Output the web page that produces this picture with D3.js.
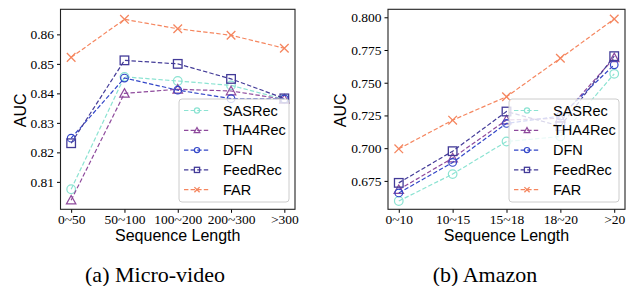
<!DOCTYPE HTML>
<html>
  <head>
    <title>AUC vs Sequence Length</title>
    <style>
      body { margin: 0; background: #fff; }
      .lab { font-family: 'Liberation Sans', Arial, sans-serif; font-size: 16px; fill: #000; }
      .leg { font-family: 'Liberation Sans', Arial, sans-serif; font-size: 14.5px; fill: #000; }
      .cap { font-family: 'Liberation Serif', 'Times New Roman', serif; font-size: 22px; fill: #000; }
    </style>
  </head>
  <body>
    <script src="https://cdn.jsdelivr.net/npm/d3@7/dist/d3.min.js" charset="utf-8"></script>
    <script>
      // series names, in legend order
      var names = ['SASRec', 'THA4Rec', 'DFN', 'FeedRec', 'FAR'];

      // (a) Micro-video
      var microCats = ['0~50', '50~100', '100~200', '200~300', '>300'];
      var microSASRec  = [0.8075, 0.8456, 0.8442, 0.8427, 0.8380];
      var microTHA4Rec = [0.8038, 0.8400, 0.8414, 0.8408, 0.8380];
      var microDFN     = [0.8248, 0.8452, 0.8411, 0.8382, 0.8381];
      var microFeedRec = [0.8231, 0.8512, 0.8500, 0.8449, 0.8383];
      var microFAR     = [0.8522, 0.8651, 0.8619, 0.8597, 0.8553];
      var microTicks = [0.81, 0.82, 0.83, 0.84, 0.85, 0.86];

      // (b) Amazon
      var amazonCats = ['0~10', '10~15', '15~18', '18~20', '>20'];
      var amazonSASRec  = [0.6596, 0.6802, 0.7051, 0.7089, 0.7568];
      var amazonTHA4Rec = [0.6683, 0.6925, 0.7215, 0.7229, 0.7690];
      var amazonDFN     = [0.6658, 0.6891, 0.7189, 0.7245, 0.7637];
      var amazonFeedRec = [0.6735, 0.6977, 0.7280, 0.7168, 0.7703];
      var amazonFAR     = [0.6995, 0.7214, 0.7393, 0.7687, 0.7987];
      var amazonTicks = [0.675, 0.700, 0.725, 0.750, 0.775, 0.800];

      var colors = {
        SASRec: '#8be3d2',
        THA4Rec: '#8e4a9c',
        DFN: '#3346c8',
        FeedRec: '#433b98',
        FAR: '#f5865f'
      };

      var width = 634,
        height = 286;

      var svg = d3.select('body').append('svg')
          .attr('width', width)
          .attr('height', height);

      function marker(g, name, x, y, big) {
        var c = colors[name];
        var r = big ? 4.3 : 2.6;
        if (name === 'SASRec' || name === 'DFN') {
          g.append('circle').attr('cx', x).attr('cy', y)
            .attr('r', name === 'DFN' && big ? 3.8 : r)
            .attr('fill', 'none').attr('stroke', c).attr('stroke-width', 1.2);
        } else if (name === 'THA4Rec') {
          var s = r * 1.1;
          g.append('path')
            .attr('d', 'M' + x + ',' + (y - s) + 'L' + (x + s) + ',' + (y + s * 0.8) + 'L' + (x - s) + ',' + (y + s * 0.8) + 'Z')
            .attr('fill', 'none').attr('stroke', c).attr('stroke-width', 1.2);
        } else if (name === 'FeedRec') {
          g.append('rect').attr('x', x - r).attr('y', y - r)
            .attr('width', 2 * r).attr('height', 2 * r)
            .attr('fill', 'none').attr('stroke', c).attr('stroke-width', 1.3);
        } else {
          var k = r;
          g.append('path')
            .attr('d', 'M' + (x - k) + ',' + (y - k) + 'L' + (x + k) + ',' + (y + k) +
                       'M' + (x - k) + ',' + (y + k) + 'L' + (x + k) + ',' + (y - k))
            .attr('stroke', c).attr('stroke-width', 1.3);
        }
      }

      function serifTicks(a) {
        a.attr('font-family', "'Liberation Serif', 'Times New Roman', serif")
          .attr('font-size', 13.5);
        a.selectAll('text').attr('fill', '#000');
        a.select('.domain').remove();
      }

      function panel(opt) {
        var x = d3.scalePoint()
            .domain(opt.cats)
            .range([opt.left, opt.right])
            .padding(0.2);
        var y = d3.scaleLinear()
            .domain(opt.ydom)
            .range([opt.bottom, opt.top]);

        var g = svg.append('g');

        // lines + markers
        opt.series.forEach(function(vals, si) {
          var name = names[si];
          var line = d3.line()
              .x(function(d, i) { return x(opt.cats[i]); })
              .y(function(d) { return y(d); });
          g.append('path')
            .datum(vals)
            .attr('d', line)
            .attr('fill', 'none')
            .attr('stroke', colors[name])
            .attr('stroke-width', 1.2)
            .attr('stroke-dasharray', '4.4,2.2');
          vals.forEach(function(v, i) {
            marker(g, name, x(opt.cats[i]), y(v), true);
          });
        });

        // axes
        var xAxis = d3.axisBottom(x).tickSize(3.5).tickPadding(2);
        var yAxis = d3.axisLeft(y).tickValues(opt.ticks).tickSize(3.5).tickPadding(3)
            .tickFormat(d3.format(opt.fmt));

        svg.append('g')
            .attr('transform', 'translate(0,' + opt.bottom + ')')
            .call(xAxis)
            .call(serifTicks);
        svg.append('g')
            .attr('transform', 'translate(' + opt.left + ',0)')
            .call(yAxis)
            .call(serifTicks);

        // frame
        svg.append('rect')
            .attr('x', opt.left).attr('y', opt.top)
            .attr('width', opt.right - opt.left).attr('height', opt.bottom - opt.top)
            .attr('fill', 'none').attr('stroke', '#222').attr('stroke-width', 1.1);

        // legend
        var lx = opt.right - 116, ly = 99;
        var leg = svg.append('g');
        leg.append('rect')
            .attr('x', lx).attr('y', ly).attr('width', 110).attr('height', 103)
            .attr('rx', 3)
            .attr('fill', 'white').attr('fill-opacity', 0.8)
            .attr('stroke', '#ccc').attr('stroke-width', 1);
        names.forEach(function(name, i) {
          var yy = ly + 11.5 + i * 19.8;
          leg.append('line')
              .attr('x1', lx + 5).attr('x2', lx + 31)
              .attr('y1', yy).attr('y2', yy)
              .attr('stroke', colors[name]).attr('stroke-width', 1.2)
              .attr('stroke-dasharray', '4.4,2.2');
          marker(leg, name, lx + 18, yy, false);
          leg.append('text').attr('class', 'leg')
              .attr('x', lx + 44).attr('y', yy + 5)
              .text(name);
        });

        // axis labels
        svg.append('text').attr('class', 'lab')
            .attr('text-anchor', 'middle')
            .attr('x', (opt.left + opt.right) / 2).attr('y', 241)
            .text('Sequence Length');
        svg.append('text').attr('class', 'lab')
            .attr('text-anchor', 'middle')
            .attr('transform', 'translate(' + opt.ylabX + ',' + ((opt.top + opt.bottom) / 2 + 1) + ') rotate(-90)')
            .text('AUC');

        // caption
        svg.append('text').attr('class', 'cap')
            .attr('text-anchor', 'middle')
            .attr('x', opt.capX).attr('y', 282)
            .text(opt.caption);
      }

      panel({
        cats: microCats,
        series: [microSASRec, microTHA4Rec, microDFN, microFeedRec, microFAR],
        ticks: microTicks, fmt: '.2f',
        ydom: [0.8007, 0.8685],
        left: 60.5, right: 295, top: 9.3, bottom: 209.3,
        ylabX: 26, capX: 155,
        caption: '(a) Micro-video'
      });

      panel({
        cats: amazonCats,
        series: [amazonSASRec, amazonTHA4Rec, amazonDFN, amazonFeedRec, amazonFAR],
        ticks: amazonTicks, fmt: '.3f',
        ydom: [0.6533, 0.8061],
        left: 388, right: 625, top: 9.3, bottom: 209.3,
        ylabX: 346, capX: 485,
        caption: '(b) Amazon'
      });
    </script>
  </body>
</html>
